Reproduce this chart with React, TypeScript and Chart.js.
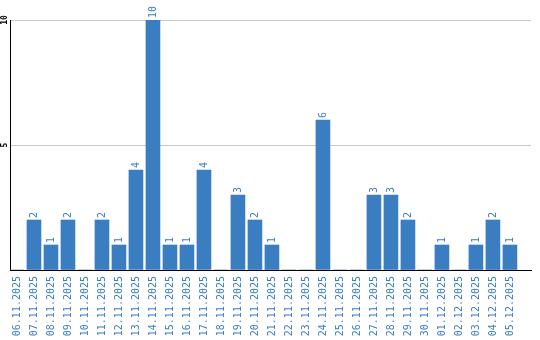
import React, { useEffect, useRef } from "react";
import { Chart, registerables } from "chart.js";

Chart.register(...registerables);

const dates: string[] = [
  "06.11.2025", "07.11.2025", "08.11.2025", "09.11.2025", "10.11.2025",
  "11.11.2025", "12.11.2025", "13.11.2025", "14.11.2025", "15.11.2025",
  "16.11.2025", "17.11.2025", "18.11.2025", "19.11.2025", "20.11.2025",
  "21.11.2025", "22.11.2025", "23.11.2025", "24.11.2025", "25.11.2025",
  "26.11.2025", "27.11.2025", "28.11.2025", "29.11.2025", "30.11.2025",
  "01.12.2025", "02.12.2025", "03.12.2025", "04.12.2025", "05.12.2025",
];
const counts: number[] = [
  0, 2, 1, 2, 0, 2, 1, 4, 10, 1,
  1, 4, 0, 3, 2, 1, 0, 0, 6, 0,
  0, 3, 3, 2, 0, 1, 0, 1, 2, 1,
];
const yTickValues: number[] = [5, 10];

const BLUE = "#3a7dc1";
const MONO = '"DejaVu Sans Mono", "Liberation Mono", monospace';

const valueLabels = {
  id: "valueLabels",
  afterDatasetsDraw(chart: any) {
    const ctx = chart.ctx;
    const meta = chart.getDatasetMeta(0);
    ctx.save();
    ctx.fillStyle = BLUE;
    ctx.font = `10px ${MONO}`;
    ctx.textAlign = "left";
    ctx.textBaseline = "middle";
    meta.data.forEach((bar: any, i: number) => {
      const v = counts[i];
      if (!v) return;
      ctx.save();
      ctx.translate(bar.x + 0.5, bar.y - 2);
      ctx.rotate(-Math.PI / 2);
      ctx.fillText(String(v), 0, 0);
      ctx.restore();
    });
    ctx.restore();
  },
};

const yLabels = {
  id: "yLabels",
  afterDraw(chart: any) {
    const ctx = chart.ctx;
    const y = chart.scales.y;
    ctx.save();
    ctx.fillStyle = "#000";
    ctx.font = `bold 8px ${MONO}`;
    ctx.textAlign = "center";
    ctx.textBaseline = "middle";
    yTickValues.forEach((t) => {
      ctx.save();
      ctx.translate(5, y.getPixelForValue(t));
      ctx.rotate(-Math.PI / 2);
      ctx.fillText(String(t), 0, 0);
      ctx.restore();
    });
    ctx.restore();
  },
};

export default function App() {
  const ref = useRef<HTMLCanvasElement | null>(null);
  useEffect(() => {
    if (!ref.current) return;
    const chart = new Chart(ref.current, {
      type: "bar",
      data: {
        datasets: [
          {
            data: counts.map((v, i) => ({ x: i, y: v })),
            backgroundColor: BLUE,
            borderWidth: 0,
            barThickness: 14,
          },
        ],
      },
      options: {
        animation: false,
        responsive: false,
        maintainAspectRatio: false,
        layout: { padding: { left: 10, right: 9, top: 20, bottom: 0 } },
        plugins: { legend: { display: false }, tooltip: { enabled: false } },
        scales: {
          x: {
            type: "linear",
            offset: false,
            min: -0.41,
            max: 30.24,
            afterBuildTicks: (scale: any) => {
              scale.ticks = dates.map((_, i) => ({ value: i }));
            },
            afterFit: (scale: any) => {
              scale.paddingLeft = 0;
              scale.paddingRight = 0;
              scale.height = 70;
            },
            grid: { display: false, drawTicks: false, offset: false },
            border: { display: true, color: "#000", width: 1 },
            ticks: {
              autoSkip: false,
              minRotation: 90,
              maxRotation: 90,
              padding: 6,
              color: BLUE,
              font: { family: MONO, size: 10 },
              callback: (v: any) => dates[v] ?? "",
            },
          },
          y: {
            min: 0,
            max: 10,
            afterBuildTicks: (scale: any) => {
              scale.ticks = [0, ...yTickValues].map((v) => ({ value: v }));
            },
            afterFit: (scale: any) => {
              scale.width = 0;
              scale.paddingTop = 0;
              scale.paddingBottom = 0;
            },
            grid: {
              drawTicks: false,
              color: (c: any) => (c.tick && c.tick.value === 0 ? "rgba(0,0,0,0)" : "#c8c8c8"),
            },
            border: { display: true, color: "#000", width: 1 },
            ticks: { display: false },
          },
        },
      },
      plugins: [valueLabels, yLabels],
    });
    return () => chart.destroy();
  }, []);
  return (
    <div style={{ position: "fixed", left: 0, top: 0, width: 540, height: 340, background: "#fff" }}>
      <canvas ref={ref} width={540} height={340} style={{ display: "block" }} />
    </div>
  );
}
